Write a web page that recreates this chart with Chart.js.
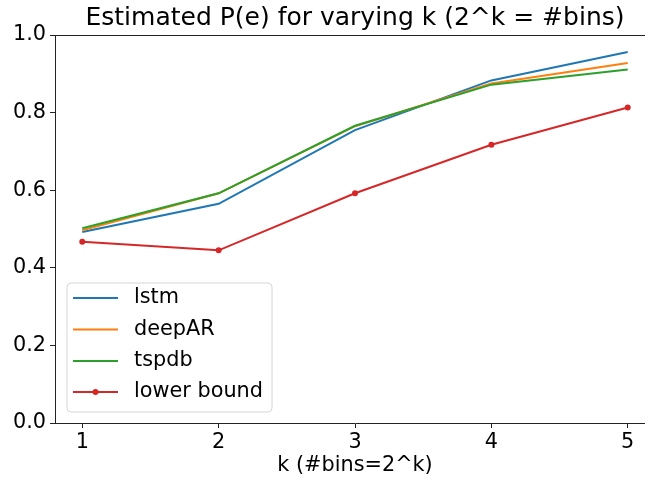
<!DOCTYPE html>
<html>
<head>
<meta charset="utf-8">
<script src="https://cdn.jsdelivr.net/npm/chart.js@4/dist/chart.umd.min.js"></script>
<style>
  html, body { margin: 0; padding: 0; background: #fff; overflow: hidden; }
  #wrap { width: 645px; height: 482px; overflow: hidden; position: relative; }
  #box { width: 660px; height: 482px; position: absolute; left: 0; top: 0; }
</style>
</head>
<body>
<div id="wrap"><div id="box"><canvas id="c"></canvas></div></div>
<script>
const kValues = [1, 2, 3, 4, 5];
const lstm = [0.492, 0.565, 0.755, 0.883, 0.956];
const deepAR = [0.497, 0.592, 0.765, 0.875, 0.928];
const tspdb = [0.502, 0.592, 0.766, 0.872, 0.911];
const lowerBound = [0.467, 0.445, 0.592, 0.717, 0.813];
const yTicks = [0.0, 0.2, 0.4, 0.6, 0.8, 1.0];
const titleText = 'Estimated P(e) for varying k (2^k = #bins)';
const xLabel = 'k (#bins=2^k)';

const FONT = "'DejaVu Sans', sans-serif";
const FS = 20.8;
const pts = arr => kValues.map((k, i) => ({ x: k, y: arr[i] }));

const overlay = {
  id: 'overlay',
  afterDraw(chart) {
    const ctx = chart.ctx;
    const a = chart.chartArea;
    ctx.save();
    // top spine
    ctx.strokeStyle = '#222';
    ctx.lineWidth = 1;
    ctx.beginPath();
    ctx.moveTo(a.left, a.top + 0.5);
    ctx.lineTo(a.right, a.top + 0.5);
    ctx.stroke();
    // title
    ctx.fillStyle = '#000';
    ctx.textAlign = 'center';
    ctx.textBaseline = 'middle';
    ctx.font = '25px ' + FONT;
    ctx.fillText(titleText, (a.left + a.right) / 2, 18);
    // x label
    ctx.font = FS + 'px ' + FONT;
    ctx.fillText(xLabel, (a.left + a.right) / 2, 466);
    // legend
    const lx = 67, ly = 283, lw = 205, lh = 129, r = 4;
    ctx.beginPath();
    ctx.moveTo(lx + r, ly);
    ctx.arcTo(lx + lw, ly, lx + lw, ly + lh, r);
    ctx.arcTo(lx + lw, ly + lh, lx, ly + lh, r);
    ctx.arcTo(lx, ly + lh, lx, ly, r);
    ctx.arcTo(lx, ly, lx + lw, ly, r);
    ctx.closePath();
    ctx.fillStyle = 'rgba(255,255,255,0.8)';
    ctx.fill();
    ctx.strokeStyle = '#d6d6d6';
    ctx.lineWidth = 1;
    ctx.stroke();
    const rows = [298, 329.5, 361, 392];
    chart.data.datasets.forEach((ds, i) => {
      const y = rows[i];
      ctx.strokeStyle = ds.borderColor;
      ctx.lineWidth = 2;
      ctx.beginPath();
      ctx.moveTo(73, y);
      ctx.lineTo(118, y);
      ctx.stroke();
      if (ds.pointRadius > 0) {
        ctx.fillStyle = ds.borderColor;
        ctx.beginPath();
        ctx.arc(95.5, y, ds.pointRadius, 0, Math.PI * 2);
        ctx.fill();
      }
      ctx.fillStyle = '#000';
      ctx.textAlign = 'left';
      ctx.textBaseline = 'middle';
      ctx.font = FS + 'px ' + FONT;
      ctx.fillText(ds.label, 134, y);
    });
    ctx.restore();
  }
};

new Chart(document.getElementById('c'), {
  type: 'line',
  data: {
    datasets: [
      { label: 'lstm', data: pts(lstm), borderColor: '#1f77b4', backgroundColor: '#1f77b4', borderWidth: 2, pointRadius: 0, order: 4 },
      { label: 'deepAR', data: pts(deepAR), borderColor: '#ff7f0e', backgroundColor: '#ff7f0e', borderWidth: 2, pointRadius: 0, order: 3 },
      { label: 'tspdb', data: pts(tspdb), borderColor: '#2ca02c', backgroundColor: '#2ca02c', borderWidth: 2, pointRadius: 0, order: 2 },
      { label: 'lower bound', data: pts(lowerBound), borderColor: '#d62728', backgroundColor: '#d62728', borderWidth: 2, pointRadius: 3, pointBorderWidth: 0, order: 1 }
    ]
  },
  options: {
    responsive: true,
    maintainAspectRatio: false,
    animation: false,
    events: [],
    layout: { padding: { top: 35, right: 5, left: 0, bottom: 0 } },
    plugins: { legend: { display: false }, title: { display: false }, tooltip: { enabled: false } },
    scales: {
      x: {
        type: 'linear',
        min: 0.8,
        max: 5.2,
        afterBuildTicks: s => { s.ticks = kValues.map(v => ({ value: v })); },
        afterFit: s => { s.height = 59; },
        grid: { drawOnChartArea: false, drawTicks: true, tickLength: 5, tickColor: '#222', tickWidth: 1 },
        border: { display: true, color: '#222', width: 1 },
        ticks: { color: '#000', font: { family: FONT, size: FS }, padding: 2, maxRotation: 0, callback: v => String(v) }
      },
      y: {
        min: 0,
        max: 1,
        afterBuildTicks: s => { s.ticks = yTicks.map(v => ({ value: v })); },
        afterFit: s => { s.width = 55; },
        grid: { drawOnChartArea: false, drawTicks: true, tickLength: 5, tickColor: '#222', tickWidth: 1 },
        border: { display: true, color: '#222', width: 1 },
        ticks: { color: '#000', font: { family: FONT, size: FS }, padding: 4, callback: v => Number(v).toFixed(1) }
      }
    }
  },
  plugins: [overlay]
});
</script>
</body>
</html>
